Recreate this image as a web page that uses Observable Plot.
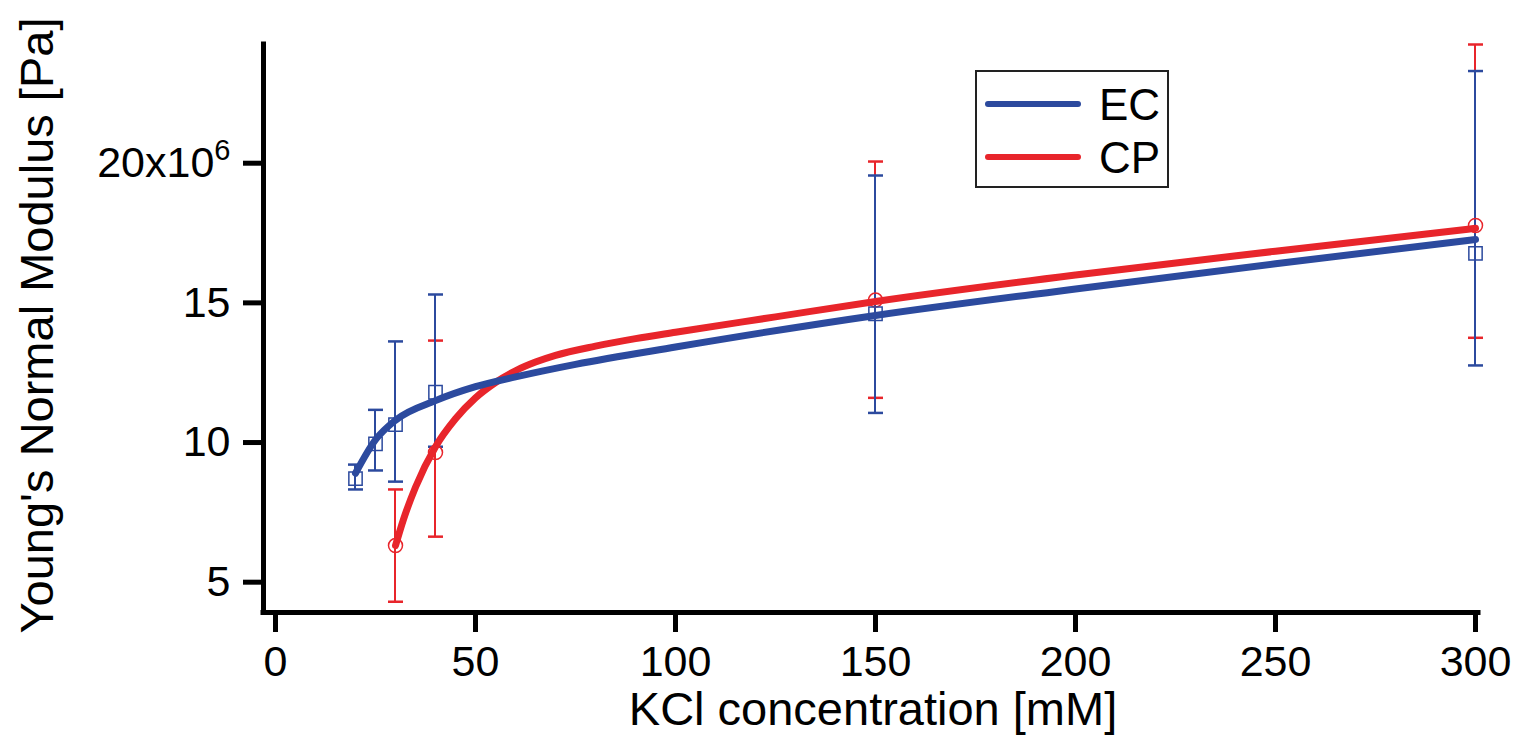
<!DOCTYPE html>
<html>
<head>
<meta charset="utf-8">
<script src="https://cdn.jsdelivr.net/npm/d3@7"></script>
<script src="https://cdn.jsdelivr.net/npm/@observablehq/plot@0.6"></script>
<style>
  html, body { margin: 0; padding: 0; background: #fff; }
  #chart { position: relative; width: 1519px; height: 746px; }
</style>
</head>
<body>
<div id="chart"></div>
<script>
// ---- Data (values in units of 10^6 Pa) ----
const xTicks = [0, 50, 100, 150, 200, 250, 300];
const yTicks = [5, 10, 15, 20];

// EC measurements (squares)
const ecX    = [20, 25, 30, 40, 150, 300];
const ecY    = [8.71, 9.95, 10.64, 11.8, 14.61, 16.77];
const ecLow  = [8.32, 9.0, 8.6, 9.85, 11.06, 12.76];
const ecHigh = [9.21, 11.17, 13.62, 15.3, 19.56, 23.3];

// CP measurements (circles)
const cpX    = [30, 40, 150, 300];
const cpY    = [6.31, 9.64, 15.1, 17.77];
const cpLow  = [4.3, 6.63, 11.6, 13.75];
const cpHigh = [8.32, 13.65, 20.06, 24.25];

// Fitted curves
const ecFitX = [20, 25, 30, 40, 50, 60, 75, 100, 150, 200, 250, 300];
const ecFitY = [8.9, 10.1, 10.8, 11.5, 12.0, 12.35, 12.8, 13.42, 14.55, 15.5, 16.4, 17.27];
const cpFitX = [30, 32, 35, 40, 45, 50, 55, 60, 65, 70, 80, 90, 100, 125, 150, 200, 250, 300];
const cpFitY = [6.31, 7.25, 8.4, 9.85, 10.85, 11.6, 12.15, 12.57, 12.88, 13.12, 13.45, 13.72, 13.95, 14.5, 15.05, 16.0, 16.85, 17.67];

const seriesNames = ["EC", "CP"];

const BLUE = "#2c4a9e";
const RED = "#e8252b";

const zip = (xs, ys, extra = {}) => xs.map((x, i) => {
  const o = {x, y: ys[i]};
  for (const k in extra) o[k] = extra[k][i];
  return o;
});
const ec = zip(ecX, ecY, {lo: ecLow, hi: ecHigh});
const cp = zip(cpX, cpY, {lo: cpLow, hi: cpHigh});
const ecFit = zip(ecFitX, ecFitY);
const cpFit = zip(cpFitX, cpFitY);

const capSymbol = {
  draw(ctx, size) {
    const w = Math.sqrt(size / Math.PI);
    ctx.moveTo(-w, 0);
    ctx.lineTo(w, 0);
  }
};

const xMin = -3, xMax = 300.75, yMin = 3.915, yMax = 24.25;
const FONT = "'Liberation Sans', Arial, sans-serif";

const plot = Plot.plot({
  width: 1519,
  height: 746,
  marginLeft: 263,
  marginRight: 41,
  marginTop: 44,
  marginBottom: 134,
  style: {fontFamily: FONT, background: "#fff", color: "#000"},
  x: {domain: [xMin, xMax]},
  y: {domain: [yMin, yMax]},
  marks: [
    // error bars
    Plot.ruleX(cp, {x: "x", y1: "lo", y2: "hi", stroke: RED, strokeWidth: 2, dx: -0.5}),
    Plot.dot(cp, {x: "x", y: "lo", symbol: capSymbol, r: 7.5, stroke: RED, strokeWidth: 2.5, fill: "none"}),
    Plot.dot(cp, {x: "x", y: "hi", symbol: capSymbol, r: 7.5, stroke: RED, strokeWidth: 2.5, fill: "none"}),
    Plot.ruleX(ec, {x: "x", y1: "lo", y2: "hi", stroke: BLUE, strokeWidth: 2, dx: -0.5}),
    Plot.dot(ec, {x: "x", y: "lo", symbol: capSymbol, r: 7.5, stroke: BLUE, strokeWidth: 2.5, fill: "none"}),
    Plot.dot(ec, {x: "x", y: "hi", symbol: capSymbol, r: 7.5, stroke: BLUE, strokeWidth: 2.5, fill: "none"}),
    // fitted curves
    Plot.line(cpFit, {x: "x", y: "y", stroke: RED, strokeWidth: 7, curve: "monotone-x", strokeLinecap: "round"}),
    Plot.line(ecFit, {x: "x", y: "y", stroke: BLUE, strokeWidth: 7, curve: "monotone-x", strokeLinecap: "round"}),
    // markers
    Plot.dot(cp, {x: "x", y: "y", symbol: "circle", r: 7, stroke: RED, strokeWidth: 1.5, fill: "none"}),
    Plot.dot(ec, {x: "x", y: "y", symbol: "square", r: 7.5, stroke: BLUE, strokeWidth: 1.5, fill: "none"}),
    // axes
    Plot.ruleX([xMin], {stroke: "#000", strokeWidth: 5, strokeLinecap: "square"}),
    Plot.ruleY([yMin], {stroke: "#000", strokeWidth: 5, strokeLinecap: "square"}),
    Plot.axisX({ticks: xTicks, tickSize: 20, strokeWidth: 5, tickPadding: 13, fontSize: 43, label: null, tickFormat: d => String(d)}),
    Plot.axisY({ticks: yTicks, tickSize: 20, strokeWidth: 5, tickPadding: 13, fontSize: 43, label: null,
      tickFormat: d => d === 20 ? "20x10" : String(d)}),
    // axis titles
    Plot.text(["KCl concentration [mM]"], {frameAnchor: "bottom", dy: 97, dx: 2, fontSize: 47, textAnchor: "middle", lineAnchor: "middle", fill: "#000"}),
    Plot.text(["Young's Normal Modulus [Pa]"], {frameAnchor: "left", dx: -226, dy: -3, rotate: -90, fontSize: 47, textAnchor: "middle", lineAnchor: "middle", fill: "#000"})
  ]
});

// superscript for the 20x10^6 tick label
plot.querySelectorAll("text").forEach(t => {
  if (t.textContent === "20x10") {
    const ts = document.createElementNS("http://www.w3.org/2000/svg", "tspan");
    ts.setAttribute("font-size", "29");
    ts.setAttribute("dy", "-0.6em");
    ts.textContent = "6";
    t.appendChild(ts);
  }
});

// legend
const svg = d3.select(plot);
const lg = svg.append("g").attr("font-family", FONT).attr("text-anchor", "start");
lg.append("rect").attr("x", 976).attr("y", 71).attr("width", 192).attr("height", 116)
  .attr("fill", "#fff").attr("stroke", "#222").attr("stroke-width", 2);
const legendColors = [BLUE, RED];
seriesNames.forEach((name, i) => {
  const cy = 104 + i * 53;
  lg.append("line").attr("x1", 988).attr("x2", 1078).attr("y1", cy).attr("y2", cy)
    .attr("stroke", legendColors[i]).attr("stroke-width", 6).attr("stroke-linecap", "round");
  lg.append("text").attr("x", 1099).attr("y", cy + 16).attr("font-size", 44)
    .attr("text-anchor", "start").attr("fill", "#000").text(name);
});

document.getElementById("chart").appendChild(plot);
</script>
</body>
</html>
